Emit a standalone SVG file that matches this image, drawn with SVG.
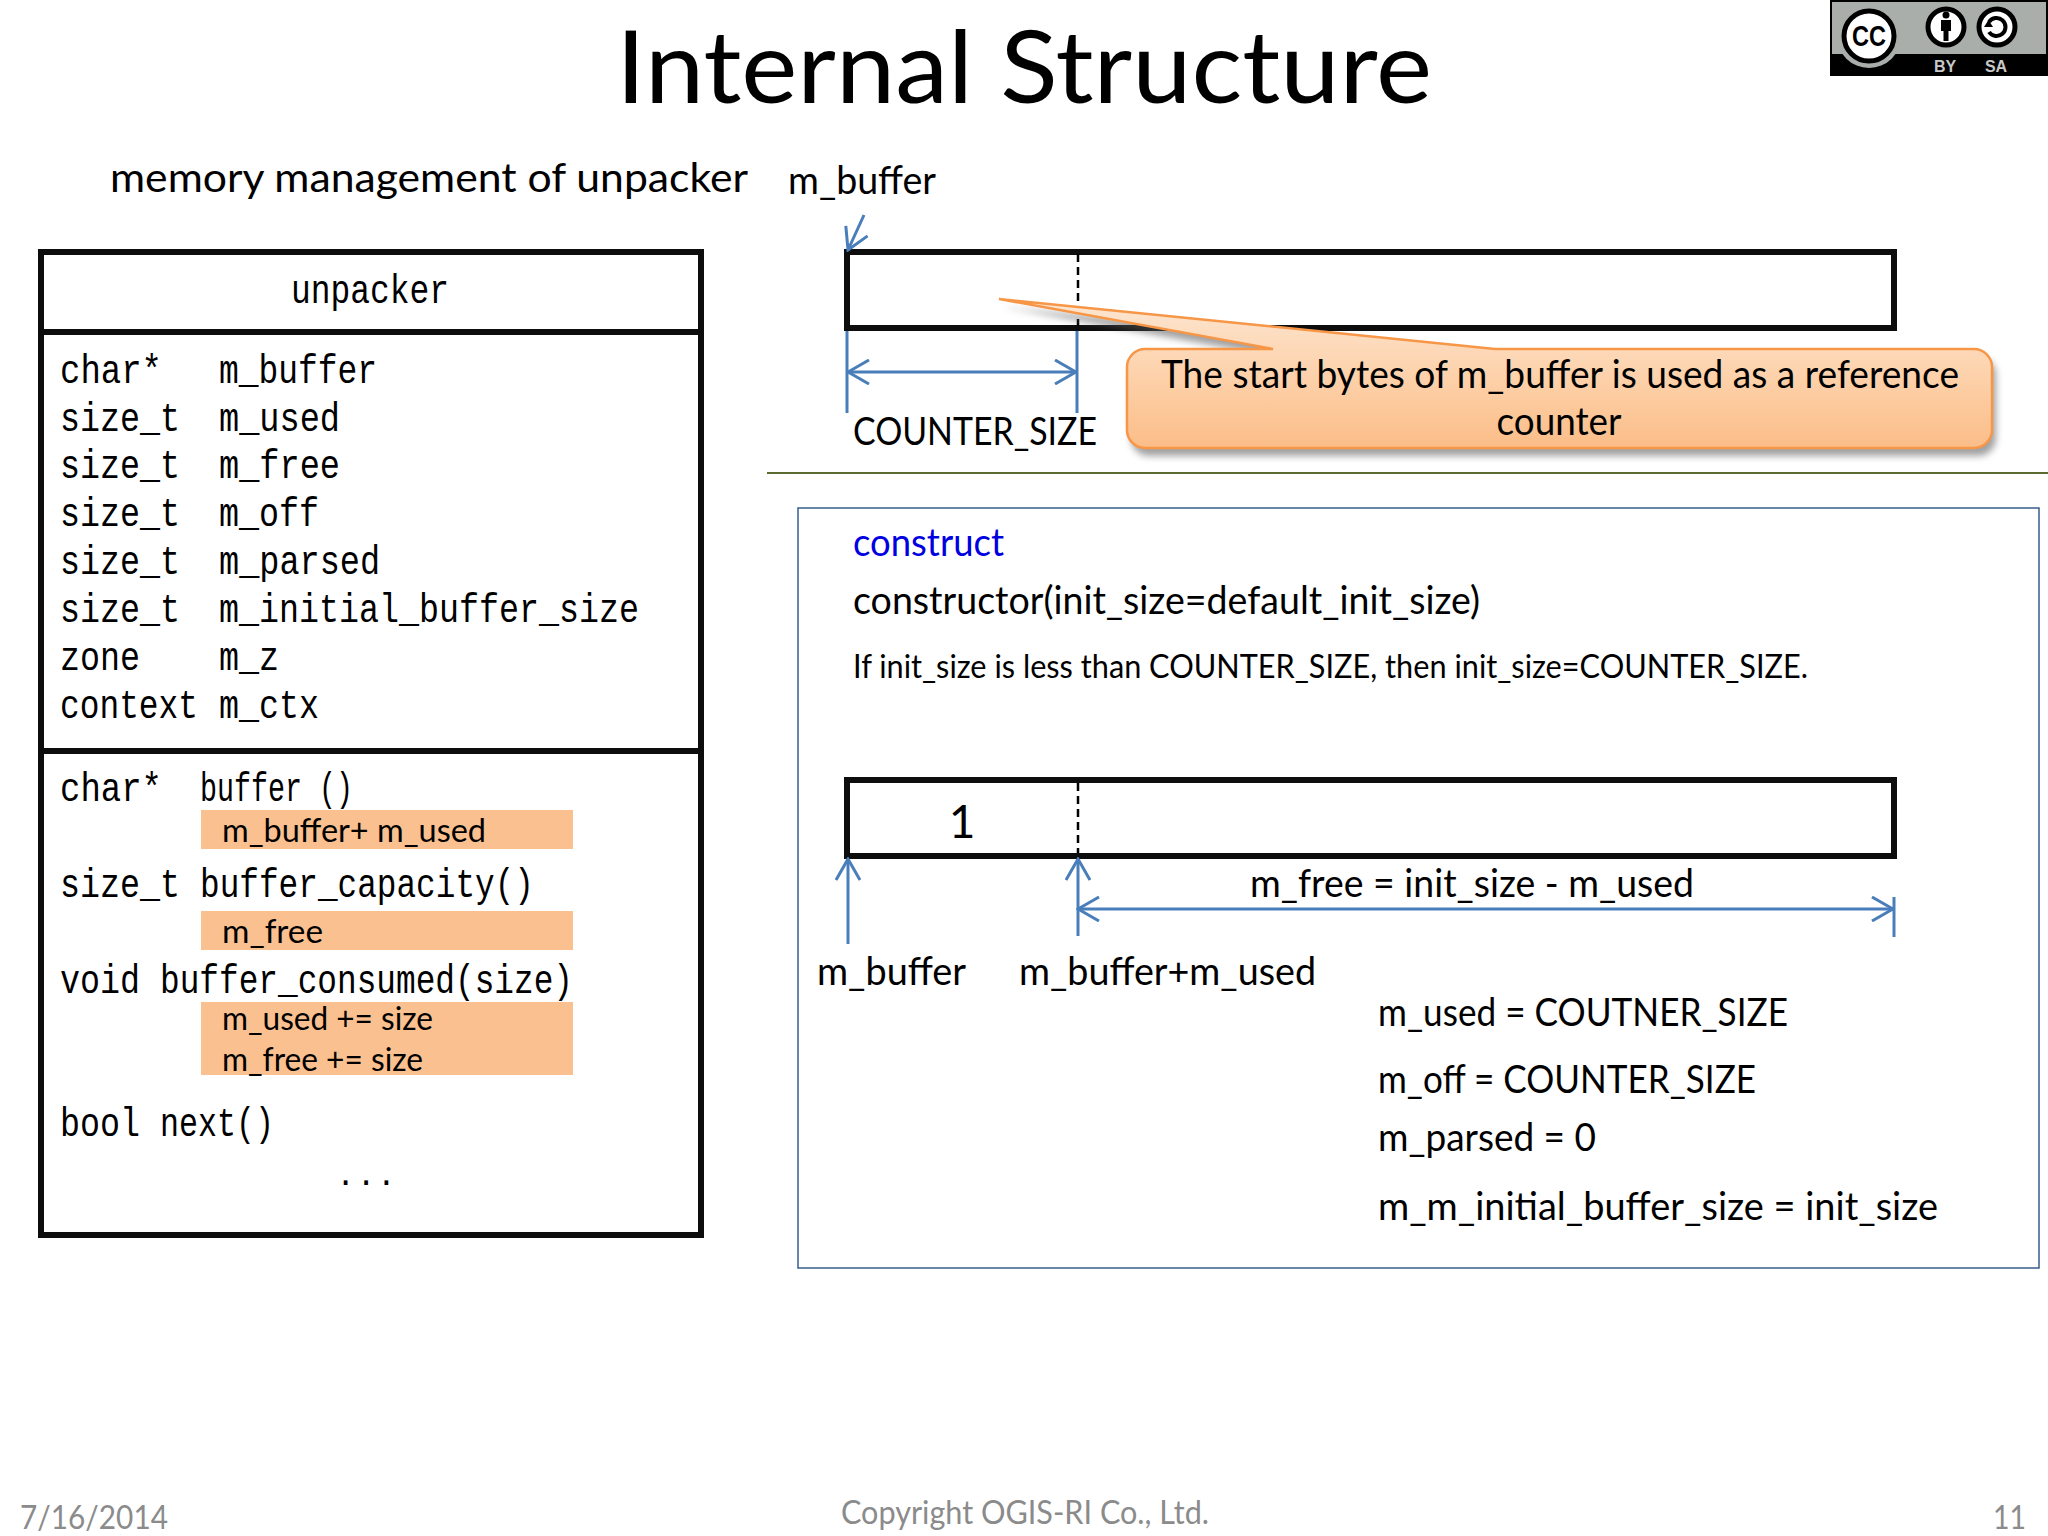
<svg xmlns="http://www.w3.org/2000/svg" width="2048" height="1536" viewBox="0 0 2048 1536">
<style>
text{font-family:"Lato","Liberation Sans",sans-serif;fill:#000}
.m{font-family:"Liberation Mono","DejaVu Sans Mono",monospace;font-size:40px}
.f{font-size:33px}
.l{font-size:38px}
.g{font-size:32px;fill:#8b8b8b}
.box{fill:#fff;stroke:#0d0d0d;stroke-width:6}
.dash{stroke:#000;stroke-width:2.500;stroke-dasharray:8 5;fill:none}
.bl{stroke:#4a7ebb;stroke-width:3;fill:none}
.or{fill:#fbc08f}
.o{fill:#fff;stroke:#000;stroke-width:5}
</style>
<defs>
<linearGradient id="cg" x1="0" y1="0" x2="0" y2="1"><stop offset="0" stop-color="#fde6d2"/><stop offset="0.55" stop-color="#fdd0a8"/><stop offset="1" stop-color="#fbbd88"/></linearGradient>
<filter id="sh" x="-5%" y="-10%" width="110%" height="125%"><feGaussianBlur stdDeviation="3.500"/></filter>
<marker id="ah" viewBox="0 0 26 26" refX="24" refY="13" markerWidth="26" markerHeight="26" markerUnits="userSpaceOnUse" orient="auto-start-reverse"><path d="M3 1 L24 13 L3 25" fill="none" stroke="#4a7ebb" stroke-width="3"/></marker>
</defs>
<rect width="2048" height="1536" fill="#fff"/>
<g id="title"><text x="616" y="103" font-size="100" textLength="816" lengthAdjust="spacingAndGlyphs">Internal Structure</text></g>
<g id="cc-badge">
<rect x="1830" y="0" width="218" height="76" fill="#000"/>
<rect x="1832" y="2" width="214" height="52" fill="#a9aeab"/>
<circle cx="1869" cy="36" r="32" fill="#a9aeab"/>
<circle class="o" cx="1869" cy="36" r="25" stroke-width="6"/>
<text x="1869" y="46" font-size="29" font-weight="900" text-anchor="middle" style="font-family:'Liberation Sans',sans-serif" textLength="34" lengthAdjust="spacingAndGlyphs">CC</text>
<circle class="o" cx="1946" cy="27" r="18"/>
<circle cx="1946" cy="15" r="3.500"/><path d="M1941 20h10v11h-2.500v10h-5v-10h-2.500z"/>
<circle class="o" cx="1997" cy="27" r="18"/>
<path d="M1989 22a9 9 0 1 1 0 10" fill="none" stroke="#000" stroke-width="4"/><path d="M1984 27h9l-4.500 -7z"/>
<text x="1945" y="72" font-size="16" font-weight="700" text-anchor="middle" style="fill:#c8c8c8;font-family:'Liberation Sans',sans-serif">BY</text>
<text x="1996" y="72" font-size="16" font-weight="700" text-anchor="middle" style="fill:#c8c8c8;font-family:'Liberation Sans',sans-serif">SA</text>
</g>
<g id="subtitle"><text x="110" y="192" font-size="41" textLength="638" lengthAdjust="spacingAndGlyphs">memory management of unpacker</text></g>

<g id="unpacker">
<rect class="box" x="41" y="252" width="660" height="983"/>
<path d="M41 332H701M41 751H701" stroke="#0d0d0d" stroke-width="6" fill="none"/>
<text class="m" x="370" y="303" text-anchor="middle" textLength="158" lengthAdjust="spacingAndGlyphs">unpacker</text>
<g id="fields">
<text class="m" x="60" y="383" textLength="102" lengthAdjust="spacingAndGlyphs">char*</text><text class="m" x="219" y="383" textLength="158" lengthAdjust="spacingAndGlyphs">m_buffer</text>
<text class="m" x="60" y="431" textLength="120" lengthAdjust="spacingAndGlyphs">size_t</text><text class="m" x="219" y="431" textLength="121" lengthAdjust="spacingAndGlyphs">m_used</text>
<text class="m" x="60" y="478" textLength="120" lengthAdjust="spacingAndGlyphs">size_t</text><text class="m" x="219" y="478" textLength="121" lengthAdjust="spacingAndGlyphs">m_free</text>
<text class="m" x="60" y="526" textLength="120" lengthAdjust="spacingAndGlyphs">size_t</text><text class="m" x="219" y="526" textLength="100" lengthAdjust="spacingAndGlyphs">m_off</text>
<text class="m" x="60" y="574" textLength="120" lengthAdjust="spacingAndGlyphs">size_t</text><text class="m" x="219" y="574" textLength="161" lengthAdjust="spacingAndGlyphs">m_parsed</text>
<text class="m" x="60" y="622" textLength="120" lengthAdjust="spacingAndGlyphs">size_t</text><text class="m" x="219" y="622" textLength="420" lengthAdjust="spacingAndGlyphs">m_initial_buffer_size</text>
<text class="m" x="60" y="670" textLength="80" lengthAdjust="spacingAndGlyphs">zone</text><text class="m" x="219" y="670" textLength="60" lengthAdjust="spacingAndGlyphs">m_z</text>
<text class="m" x="60" y="718" textLength="138" lengthAdjust="spacingAndGlyphs">context</text><text class="m" x="219" y="718" textLength="100" lengthAdjust="spacingAndGlyphs">m_ctx</text>
</g>
<g id="methods">
<text class="m" x="60" y="801" textLength="102" lengthAdjust="spacingAndGlyphs">char*</text><text class="m" x="200" y="801" textLength="153" lengthAdjust="spacingAndGlyphs">buffer ()</text>
<rect class="or" x="201" y="810" width="372" height="39"/>
<text class="f" x="222" y="842" textLength="264" lengthAdjust="spacingAndGlyphs">m_buffer+ m_used</text>
<text class="m" x="60" y="897" textLength="120" lengthAdjust="spacingAndGlyphs">size_t</text><text class="m" x="200" y="897" textLength="334" lengthAdjust="spacingAndGlyphs">buffer_capacity()</text>
<rect class="or" x="201" y="911" width="372" height="39"/>
<text class="f" x="222" y="943" textLength="101" lengthAdjust="spacingAndGlyphs">m_free</text>
<text class="m" x="60" y="993" textLength="80" lengthAdjust="spacingAndGlyphs">void</text><text class="m" x="160" y="993" textLength="413" lengthAdjust="spacingAndGlyphs">buffer_consumed(size)</text>
<rect class="or" x="201" y="1002" width="372" height="73"/>
<text class="f" x="222" y="1030" textLength="211" lengthAdjust="spacingAndGlyphs">m_used += size</text>
<text class="f" x="222" y="1071" textLength="201" lengthAdjust="spacingAndGlyphs">m_free += size</text>
<text class="m" x="60" y="1136" textLength="80" lengthAdjust="spacingAndGlyphs">bool</text><text class="m" x="160" y="1136" textLength="114" lengthAdjust="spacingAndGlyphs">next()</text>
<text class="m" x="366" y="1185" text-anchor="middle" style="font-size:32px" textLength="60" lengthAdjust="spacing">...</text>
</g>
</g>

<g id="top-buffer">
<rect class="box" x="847" y="252" width="1047" height="76"/>
<line class="dash" x1="1078" y1="254" x2="1078" y2="326"/>
</g>
<g id="top-labels">
<text class="l" x="788" y="194" textLength="148" lengthAdjust="spacingAndGlyphs">m_buffer</text>
<text class="l" x="853" y="445" textLength="244" lengthAdjust="spacingAndGlyphs">COUNTER_SIZE</text>
</g>
<g id="callout">
<path d="M1127 367a18 18 0 0 1 18-18h128l-274-50 496 50h479a18 18 0 0 1 18 18v63a18 18 0 0 1-18 18H1145a18 18 0 0 1-18-18z" fill="#555" opacity=".55" filter="url(#sh)" transform="translate(4 8)"/>
<path d="M1127 367a18 18 0 0 1 18-18h128l-274-50 496 50h479a18 18 0 0 1 18 18v63a18 18 0 0 1-18 18H1145a18 18 0 0 1-18-18z" fill="url(#cg)" stroke="#f79646" stroke-width="2.500"/>
<text class="l" x="1161" y="388" textLength="798" lengthAdjust="spacingAndGlyphs">The start bytes of m_buffer is used as a reference</text>
<text class="l" x="1559" y="435" text-anchor="middle" textLength="125" lengthAdjust="spacingAndGlyphs">counter</text>
</g>
<line id="divider" x1="767" y1="473" x2="2048" y2="473" stroke="#5c6b2e" stroke-width="2"/>

<g id="construct">
<rect x="798" y="508" width="1241" height="760" fill="#fff" stroke="#385d8a" stroke-width="1.500"/>
<text class="l" x="853" y="556" style="fill:#0000e0" textLength="151" lengthAdjust="spacingAndGlyphs">construct</text>
<text class="l" x="853" y="614" textLength="627" lengthAdjust="spacingAndGlyphs">constructor(init_size=default_init_size)</text>
<text class="f" x="853" y="678" textLength="955" lengthAdjust="spacingAndGlyphs">If init_size is less than COUNTER_SIZE, then init_size=COUNTER_SIZE.</text>
<rect class="box" x="847" y="780" width="1047" height="76"/>
<line class="dash" x1="1078" y1="783" x2="1078" y2="853"/>
<text x="962" y="838" font-size="46" text-anchor="middle">1</text>
<text class="l" x="1250" y="897" textLength="444" lengthAdjust="spacingAndGlyphs">m_free = init_size - m_used</text>
<text class="l" x="817" y="985" textLength="149" lengthAdjust="spacingAndGlyphs">m_buffer</text>
<text class="l" x="1019" y="985" textLength="297" lengthAdjust="spacingAndGlyphs">m_buffer+m_used</text>
<text class="l" x="1378" y="1026" textLength="410" lengthAdjust="spacingAndGlyphs">m_used = COUTNER_SIZE</text>
<text class="l" x="1378" y="1093" textLength="378" lengthAdjust="spacingAndGlyphs">m_off = COUNTER_SIZE</text>
<text class="l" x="1378" y="1151" textLength="218" lengthAdjust="spacingAndGlyphs">m_parsed = 0</text>
<text class="l" x="1378" y="1220" textLength="560" lengthAdjust="spacingAndGlyphs">m_m_initial_buffer_size = init_size</text>
</g>

<g id="connectors">
<line class="bl" x1="864" y1="215" x2="848" y2="250" marker-end="url(#ah)"/>
<path class="bl" d="M847 331V413M1077 331V413"/>
<line class="bl" x1="848" y1="372" x2="1076" y2="372" marker-start="url(#ah)" marker-end="url(#ah)"/>
<line class="bl" x1="848" y1="944" x2="848" y2="859" marker-end="url(#ah)"/>
<line class="bl" x1="1078" y1="936" x2="1078" y2="859" marker-end="url(#ah)"/>
<line class="bl" x1="1078" y1="909" x2="1893" y2="909" marker-start="url(#ah)" marker-end="url(#ah)"/>
<line class="bl" x1="1894" y1="897" x2="1894" y2="937"/>
</g>

<g id="footer">
<text class="g" x="20" y="1529" textLength="148" lengthAdjust="spacingAndGlyphs">7/16/2014</text>
<text class="g" x="841" y="1524" textLength="368" lengthAdjust="spacingAndGlyphs">Copyright OGIS-RI Co., Ltd.</text>
<text class="g" x="1993" y="1529" textLength="33" lengthAdjust="spacingAndGlyphs">11</text>
</g>
</svg>
